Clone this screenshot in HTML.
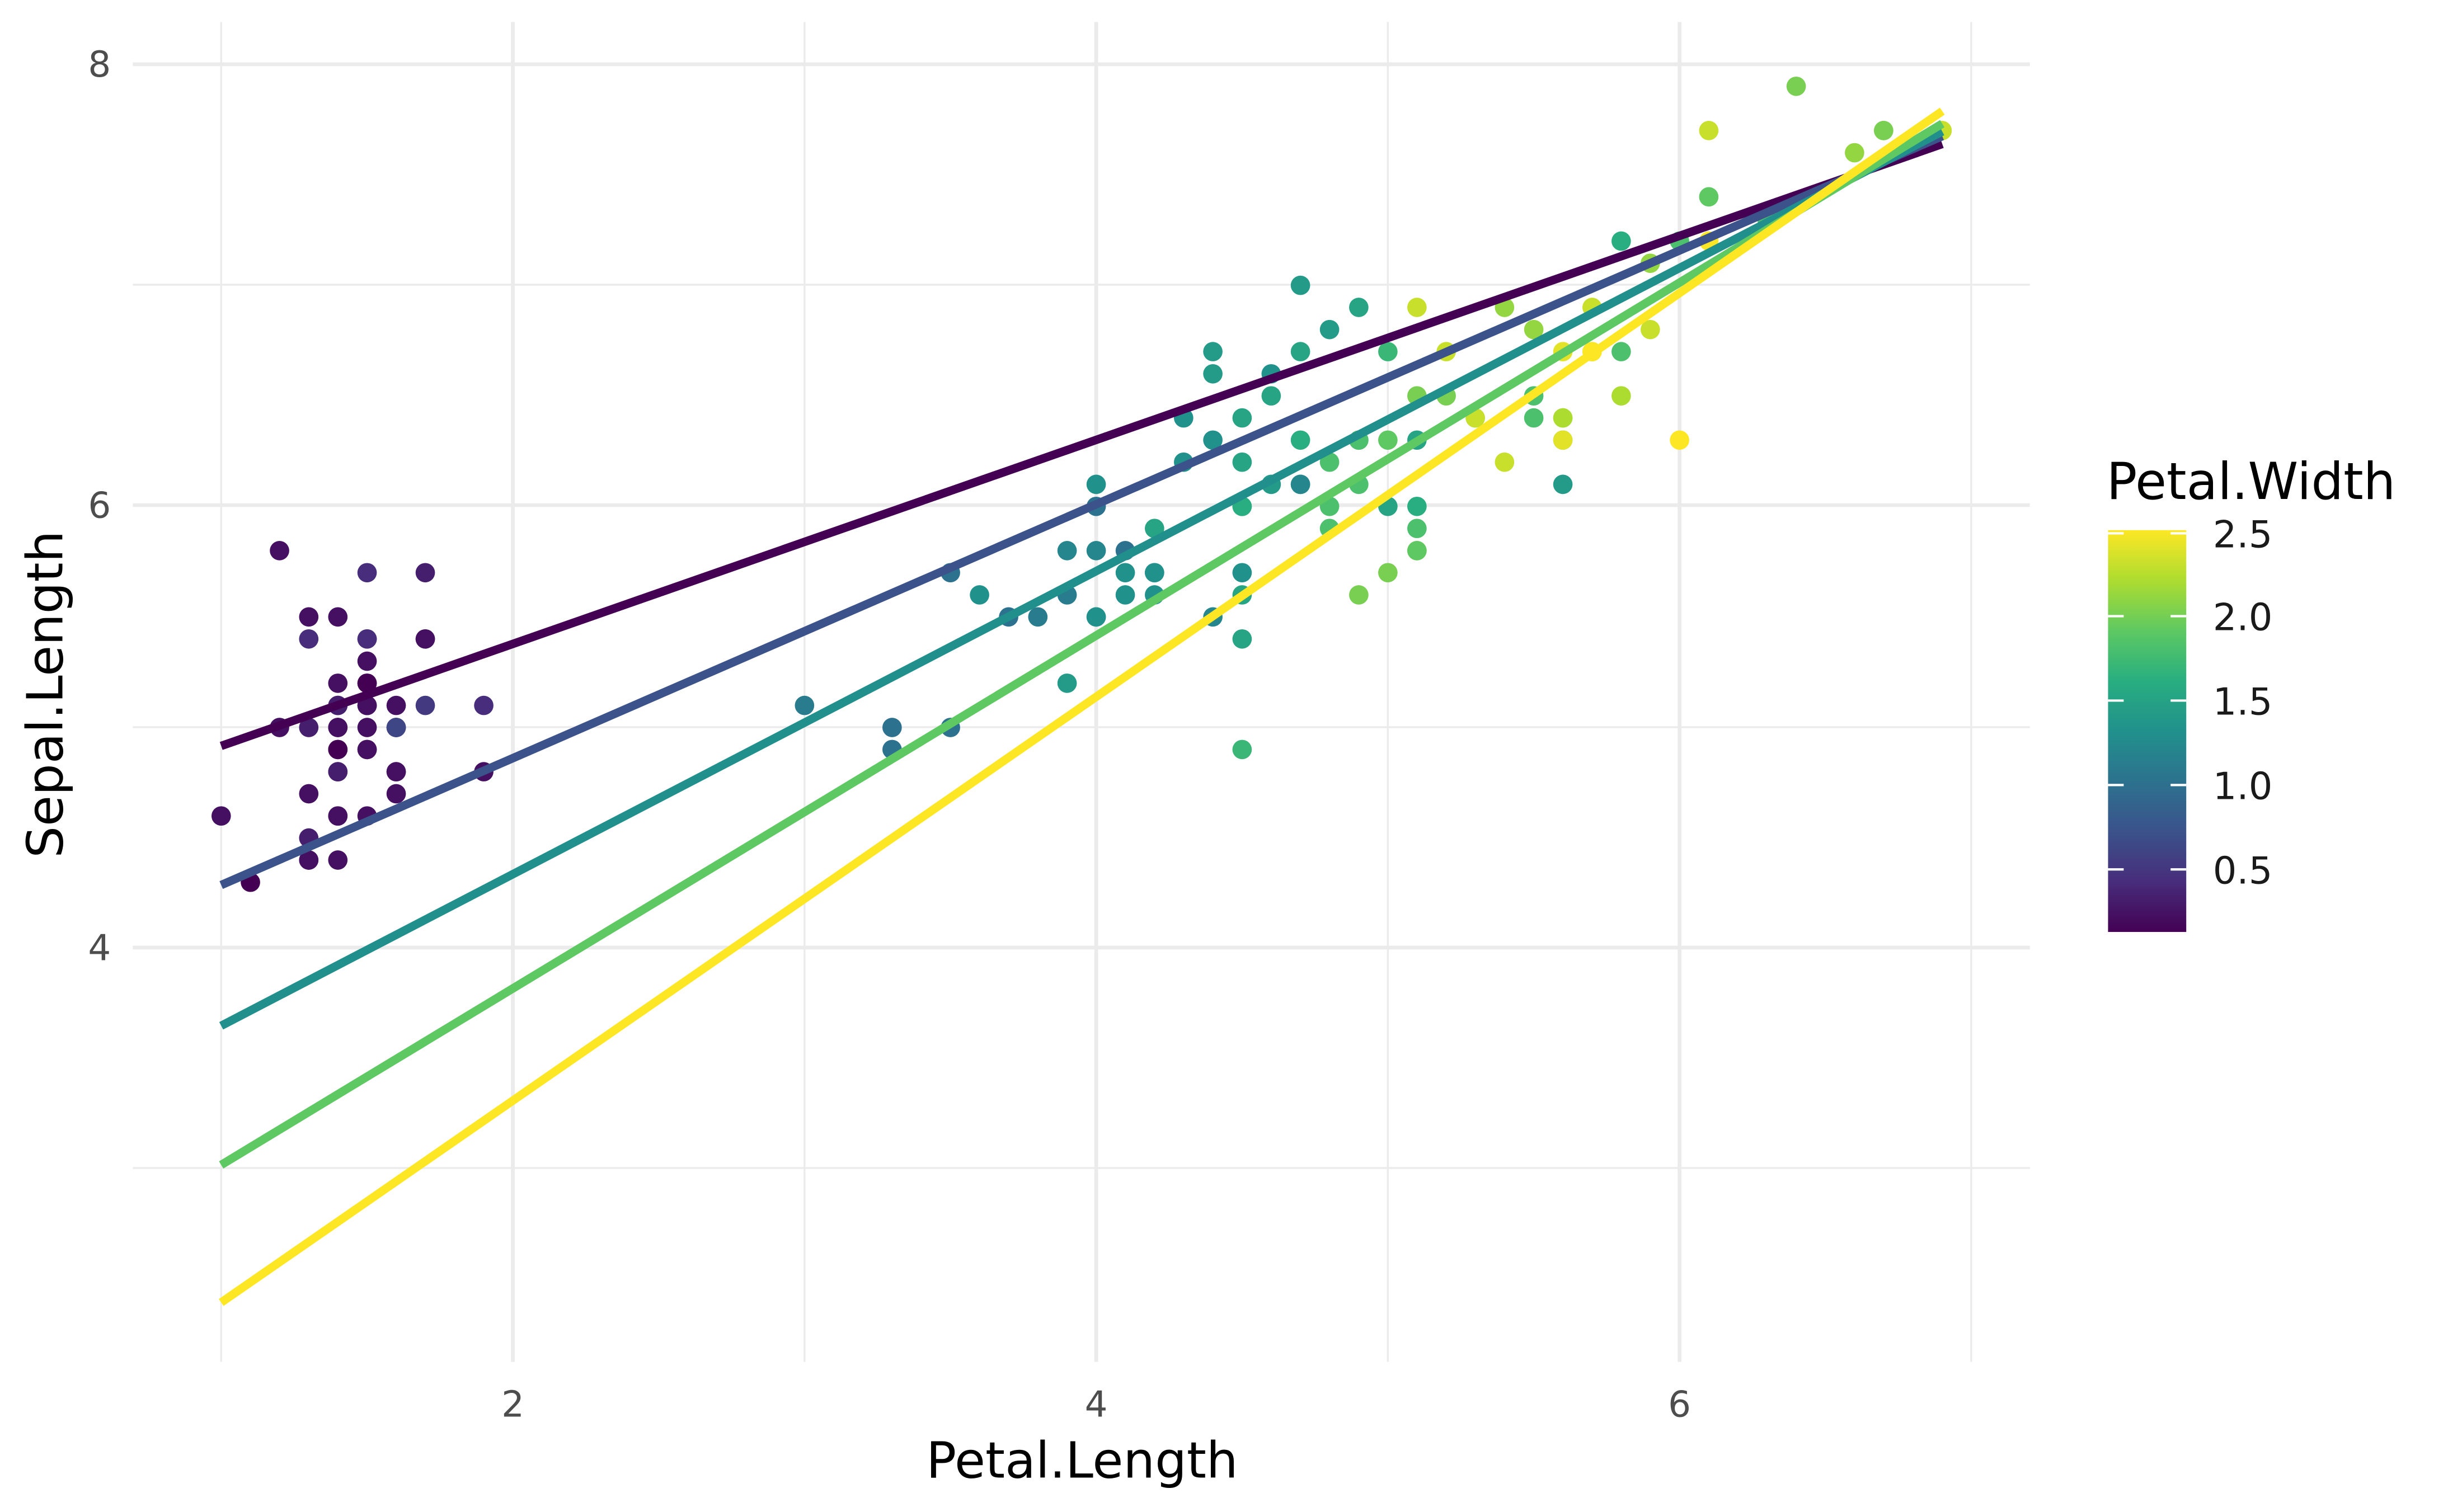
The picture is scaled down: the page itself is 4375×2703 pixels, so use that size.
<!DOCTYPE html>
<html><head><meta charset="utf-8"><style>html,body{margin:0;padding:0;background:#fff}svg{display:block}</style></head>
<body>
<svg id="s" width="4375" height="2703" viewBox="1.07 0.9 1565.3 967.1" preserveAspectRatio="none" xmlns="http://www.w3.org/2000/svg" font-family="'DejaVu Sans','Liberation Sans',sans-serif">
<defs><linearGradient id="vg" x1="0" y1="1" x2="0" y2="0">
<stop offset="0" stop-color="#440154"/><stop offset="0.125" stop-color="#472d7b"/><stop offset="0.25" stop-color="#3b528b"/><stop offset="0.375" stop-color="#2c728e"/><stop offset="0.5" stop-color="#21918c"/><stop offset="0.625" stop-color="#28ae80"/><stop offset="0.75" stop-color="#5ec962"/><stop offset="0.875" stop-color="#addc30"/><stop offset="1" stop-color="#fde725"/></linearGradient></defs>
<g stroke="#ebebeb" stroke-width="1.2">
<line x1="142.5" y1="15" x2="142.5" y2="872"/><line x1="515.5" y1="15" x2="515.5" y2="872"/><line x1="888.5" y1="15" x2="888.5" y2="872"/><line x1="1261.5" y1="15" x2="1261.5" y2="872"/>
<line x1="86" y1="183" x2="1299" y2="183"/><line x1="86" y1="466" x2="1299" y2="466"/><line x1="86" y1="748" x2="1299" y2="748"/>
</g>
<g stroke="#ebebeb" stroke-width="2.4">
<line x1="329" y1="15" x2="329" y2="872"/><line x1="702" y1="15" x2="702" y2="872"/><line x1="1075" y1="15" x2="1075" y2="872"/>
<line x1="86" y1="42" x2="1299" y2="42"/><line x1="86" y1="324" x2="1299" y2="324"/><line x1="86" y1="607" x2="1299" y2="607"/>
</g>
<g id="pts"></g>
<g stroke-width="5.4" fill="none">
<line x1="142.5" y1="478" x2="1243" y2="93" stroke="#440154"/>
<line x1="142.5" y1="567" x2="1243" y2="88" stroke="#3b528b"/>
<line x1="142.5" y1="657" x2="1243" y2="85" stroke="#21908d"/>
<line x1="142.5" y1="746" x2="1243" y2="80" stroke="#5ec962"/>
<line x1="142.5" y1="834" x2="1243" y2="72" stroke="#fde725"/>
</g>
<g fill="#4d4d4d" font-size="23">
<text x="329" y="907" text-anchor="middle">2</text><text x="702" y="907" text-anchor="middle">4</text><text x="1075" y="907" text-anchor="middle">6</text>
<text x="72" y="50" text-anchor="end">8</text><text x="72" y="332" text-anchor="end">6</text><text x="72" y="615" text-anchor="end">4</text>
</g>
<text x="693" y="946" font-size="32" text-anchor="middle">Petal.Length</text>
<text transform="translate(41,445) rotate(-90)" font-size="32" text-anchor="middle">Sepal.Length</text>
<text x="1348" y="320" font-size="32.5">Petal.Width</text>
<rect x="1349" y="340" width="50" height="257" fill="url(#vg)"/>
<g stroke="#fff" stroke-width="1.5">
<line x1="1349" y1="342" x2="1359" y2="342"/><line x1="1389" y1="342" x2="1399" y2="342"/>
<line x1="1349" y1="395" x2="1359" y2="395"/><line x1="1389" y1="395" x2="1399" y2="395"/>
<line x1="1349" y1="449" x2="1359" y2="449"/><line x1="1389" y1="449" x2="1399" y2="449"/>
<line x1="1349" y1="503" x2="1359" y2="503"/><line x1="1389" y1="503" x2="1399" y2="503"/>
<line x1="1349" y1="557" x2="1359" y2="557"/><line x1="1389" y1="557" x2="1399" y2="557"/>
</g>
<g font-size="24" fill="#1a1a1a">
<text x="1416" y="351">2.5</text><text x="1416" y="404">2.0</text><text x="1416" y="458">1.5</text><text x="1416" y="512">1.0</text><text x="1416" y="566">0.5</text>
</g>
</svg>
<script>
var d=[5.1,1.4,0.2,4.9,1.4,0.2,4.7,1.3,0.2,4.6,1.5,0.2,5.0,1.4,0.2,5.4,1.7,0.4,4.6,1.4,0.3,5.0,1.5,0.2,4.4,1.4,0.2,4.9,1.5,0.1,5.4,1.5,0.2,4.8,1.6,0.2,4.8,1.4,0.1,4.3,1.1,0.1,5.8,1.2,0.2,5.7,1.5,0.4,5.4,1.3,0.4,5.1,1.4,0.3,5.7,1.7,0.3,5.1,1.5,0.3,5.4,1.7,0.2,5.1,1.5,0.4,4.6,1.0,0.2,5.1,1.7,0.5,4.8,1.9,0.2,5.0,1.6,0.2,5.0,1.6,0.4,5.2,1.5,0.2,5.2,1.4,0.2,4.7,1.6,0.2,4.8,1.6,0.2,5.4,1.5,0.4,5.2,1.5,0.1,5.5,1.4,0.2,4.9,1.5,0.2,5.0,1.2,0.2,5.5,1.3,0.2,4.9,1.4,0.1,4.4,1.3,0.2,5.1,1.5,0.2,5.0,1.3,0.3,4.5,1.3,0.3,4.4,1.3,0.2,5.0,1.6,0.6,5.1,1.9,0.4,4.8,1.4,0.3,5.1,1.6,0.2,4.6,1.4,0.2,5.3,1.5,0.2,5.0,1.4,0.2,
7.0,4.7,1.4,6.4,4.5,1.5,6.9,4.9,1.5,5.5,4.0,1.3,6.5,4.6,1.5,5.7,4.5,1.3,6.3,4.7,1.6,4.9,3.3,1.0,6.6,4.6,1.3,5.2,3.9,1.4,5.0,3.5,1.0,5.9,4.2,1.5,6.0,4.0,1.0,6.1,4.7,1.4,5.6,3.6,1.3,6.7,4.4,1.4,5.6,4.5,1.5,5.8,4.1,1.0,6.2,4.5,1.5,5.6,3.9,1.1,5.9,4.8,1.8,6.1,4.0,1.3,6.3,4.9,1.5,6.1,4.7,1.2,6.4,4.3,1.3,6.6,4.4,1.4,6.8,4.8,1.4,6.7,5.0,1.7,6.0,4.5,1.5,5.7,3.5,1.0,5.5,3.8,1.1,5.5,3.7,1.0,5.8,3.9,1.2,6.0,5.1,1.6,5.4,4.5,1.5,6.0,4.5,1.6,6.7,4.7,1.5,6.3,4.4,1.3,5.6,4.1,1.3,5.5,4.0,1.3,5.5,4.4,1.2,6.1,4.6,1.4,5.8,4.0,1.2,5.0,3.3,1.0,5.6,4.2,1.3,5.7,4.2,1.2,5.7,4.2,1.3,6.2,4.3,1.3,5.1,3.0,1.1,5.7,4.1,1.3,
6.3,6.0,2.5,5.8,5.1,1.9,7.1,5.9,2.1,6.3,5.6,1.8,6.5,5.8,2.2,7.6,6.6,2.1,4.9,4.5,1.7,7.3,6.3,1.8,6.7,5.8,1.8,7.2,6.1,2.5,6.5,5.1,2.0,6.4,5.3,1.9,6.8,5.5,2.1,5.7,5.0,2.0,5.8,5.1,2.4,6.4,5.3,2.3,6.5,5.5,1.8,7.7,6.7,2.2,7.7,6.9,2.3,6.0,5.0,1.5,6.9,5.7,2.3,5.6,4.9,2.0,7.7,6.7,2.0,6.3,4.9,1.8,6.7,5.7,2.1,7.2,6.0,1.8,6.2,4.8,1.8,6.1,4.9,1.8,6.4,5.6,2.1,7.2,5.8,1.6,7.4,6.1,1.9,7.9,6.4,2.0,6.4,5.6,2.2,6.3,5.1,1.5,6.1,5.6,1.4,7.7,6.1,2.3,6.3,5.6,2.4,6.4,5.5,1.8,6.0,4.8,1.8,6.9,5.4,2.1,6.7,5.6,2.4,6.9,5.1,2.3,5.8,5.1,1.9,6.8,5.9,2.3,6.7,5.7,2.5,6.7,5.2,2.3,6.3,5.0,1.9,6.5,5.2,2.0,6.2,5.4,2.3,5.9,5.1,1.8];
var st=[[68,1,84],[71,45,123],[59,82,139],[44,114,142],[33,145,140],[40,174,128],[94,201,98],[173,220,48],[253,231,37]];
function col(w){var t=(w-0.1)/2.4*8;var i=Math.min(7,Math.floor(t)),f=t-i;var a=st[i],b=st[i+1];return 'rgb('+[0,1,2].map(function(k){return Math.round(a[k]+(b[k]-a[k])*f)}).join(',')+')';}
var g=document.getElementById('pts'),h='';
for(var i=0;i<d.length;i+=3){var x=142.5+(d[i+1]-1)*186.5,y=42+(8-d[i])*141.4;h+='<circle cx="'+x.toFixed(1)+'" cy="'+y.toFixed(1)+'" r="6.2" fill="'+col(d[i+2])+'"/>';}
g.innerHTML=h;
</script>
</body></html>
